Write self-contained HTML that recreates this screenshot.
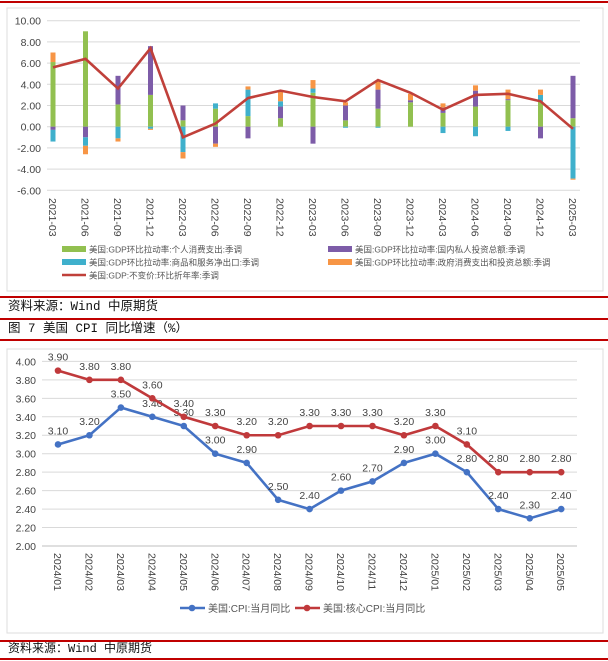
<!DOCTYPE html>
<html><head><meta charset="utf-8">
<style>
body{margin:0;width:608px;height:661px;background:#fff;overflow:hidden;font-family:"Liberation Sans","Noto Sans CJK SC",sans-serif;position:relative}
.rl{position:absolute;left:0;width:608px;height:2px;background:#c00000}
.cap{position:absolute;left:8px;font-family:"Liberation Mono","Noto Sans CJK SC",monospace;font-size:12.5px;color:#111;line-height:15px}
svg{position:absolute;left:0;top:0}
</style></head><body>
<div class="rl" style="top:1px"></div>
<div class="rl" style="top:296px"></div>
<div class="cap" style="top:300px">资料来源：Wind 中原期货</div>
<div class="rl" style="top:318px"></div>
<div class="cap" style="top:322px">图 7 美国 CPI 同比增速（%）</div>
<div class="rl" style="top:339px"></div>
<div class="rl" style="top:640px"></div>
<div class="cap" style="top:642px;font-size:12px">资料来源：Wind 中原期货</div>
<div class="rl" style="top:658px"></div>
<svg id="s" width="608" height="661"></svg>
<script>
const gdpCats=["2021-03","2021-06","2021-09","2021-12","2022-03","2022-06","2022-09","2022-12","2023-03","2023-06","2023-09","2023-12","2024-03","2024-06","2024-09","2024-12","2025-03"];
const consumption=[6.1,9.0,2.1,3.0,0.6,1.7,1.0,0.8,3.2,0.6,1.7,2.3,1.3,1.9,2.5,2.4,0.8];
const investment=[-0.3,-1.0,2.7,4.6,1.4,-1.6,-1.1,1.1,-1.6,1.4,1.8,0.2,0.5,1.5,0.1,-1.1,4.0];
const netExports=[-1.1,-0.8,-1.1,-0.2,-2.4,0.5,2.5,0.5,0.4,-0.1,-0.1,0.0,-0.6,-0.9,-0.4,0.6,-4.9];
const government=[0.9,-0.8,-0.3,-0.1,-0.6,-0.3,0.3,1.0,0.8,0.3,0.9,0.6,0.4,0.5,0.9,0.5,-0.1];
const gdpGrowth=[5.6,6.4,3.6,7.4,-1.0,0.3,2.7,3.4,2.8,2.4,4.4,3.2,1.6,3.0,3.1,2.4,-0.2];
const gdpTicks=[10,8,6,4,2,0,-2,-4,-6];
const cpiCats=["2024/01","2024/02","2024/03","2024/04","2024/05","2024/06","2024/07","2024/08","2024/09","2024/10","2024/11","2024/12","2025/01","2025/02","2025/03","2025/04","2025/05"];
const cpi=[3.1,3.2,3.5,3.4,3.3,3.0,2.9,2.5,2.4,2.6,2.7,2.9,3.0,2.8,2.4,2.3,2.4];
const coreCpi=[3.9,3.8,3.8,3.6,3.4,3.3,3.2,3.2,3.3,3.3,3.3,3.2,3.3,3.1,2.8,2.8,2.8];
const cpiTicks=[4.0,3.8,3.6,3.4,3.2,3.0,2.8,2.6,2.4,2.2,2.0];

const s=document.getElementById('s');const NS="http://www.w3.org/2000/svg";
function el(t,a,txt){const e=document.createElementNS(NS,t);for(const k in a)e.setAttribute(k,a[k]);if(txt!==undefined)e.textContent=txt;s.appendChild(e);return e;}

// ---------- GDP chart ----------
let f=el('rect',{x:7,y:8,width:596,height:283,fill:'#fff',stroke:'#ddd'});

const gy=v=>126.7+(0-v)*10.6;
const gx=i=>53+i*32.5;
gdpTicks.forEach(t=>{
 const l=el('line',{x1:47,x2:580,y1:gy(t),y2:gy(t),stroke:'#d9d9d9','stroke-width':1});
 
 const tx=el('text',{x:41,y:gy(t)+4,'text-anchor':'end','font-size':10.5,fill:'#444'},t.toFixed(2));
 
});
gdpCats.forEach((c,i)=>{
 const tx=el('text',{transform:`translate(${gx(i)-4},198) rotate(90)`,'font-size':10.5,fill:'#444'},c);
 
});
const series=[[consumption,'#92c050','consumption'],[investment,'#7d5ca8','investment'],[netExports,'#3fb0cc','net-exports'],[government,'#f79545','government']];
gdpCats.forEach((c,i)=>{
 let pos=0,neg=0;
 series.forEach(([arr,col,nm])=>{
  const v=arr[i];let y0,y1;
  if(v>=0){y0=pos;y1=pos+v;pos=y1;}else{y0=neg;y1=neg+v;neg=y1;}
  const r=el('rect',{x:gx(i)-2.5,y:Math.min(gy(y0),gy(y1)),width:5,height:Math.abs(gy(y0)-gy(y1)),fill:col});
  
 });
});
let p=el('polyline',{points:gdpGrowth.map((v,i)=>gx(i)+','+gy(v)).join(' '),fill:'none',stroke:'#c0403a','stroke-width':2.6});

const leg=[[62,249,'#92c050','美国:GDP环比拉动率:个人消费支出:季调'],[328,249,'#7d5ca8','美国:GDP环比拉动率:国内私人投资总额:季调'],[62,262,'#3fb0cc','美国:GDP环比拉动率:商品和服务净出口:季调'],[328,262,'#f79545','美国:GDP环比拉动率:政府消费支出和投资总额:季调']];
leg.forEach(([x,y,c,t])=>{
 const r=el('rect',{x:x,y:y-3,width:24,height:6,fill:c});
 const tx=el('text',{x:x+27,y:y+3.5,'font-size':8.5,fill:'#555'},t);
});
let ll=el('line',{x1:62,x2:86,y1:275,y2:275,stroke:'#c0403a','stroke-width':2.5});
let lt=el('text',{x:89,y:278.5,'font-size':8.5,fill:'#555'},'美国:GDP:不变价:环比折年率:季调');

// ---------- CPI chart ----------
f=el('rect',{x:7,y:349,width:596,height:284,fill:'#fff',stroke:'#ddd'});

const cy=v=>546-(v-2)*92.3;
const cx=i=>58+i*31.45;
cpiTicks.forEach(t=>{
 const l=el('line',{x1:42,x2:577,y1:cy(t),y2:cy(t),stroke:t===2?'#bfbfbf':'#d9d9d9','stroke-width':1});
 
 const tx=el('text',{x:36,y:cy(t)+4,'text-anchor':'end','font-size':10.5,fill:'#444'},t.toFixed(2));
 
});
cpiCats.forEach((c,i)=>{
 const tx=el('text',{transform:`translate(${cx(i)-4},553) rotate(90)`,'font-size':10.5,fill:'#444'},c);
 
});
[[cpi,'#4472c4','cpi',1],[coreCpi,'#c0393b','core-cpi',-1]].forEach(([arr,col,nm,d])=>{
 const pl=el('polyline',{points:arr.map((v,i)=>cx(i)+','+cy(v)).join(' '),fill:'none',stroke:col,'stroke-width':2.6});
 
 arr.forEach((v,i)=>{
  const c=el('circle',{cx:cx(i),cy:cy(v),r:3.3,fill:col});
  const tx=el('text',{x:cx(i),y:cy(v)-10,'text-anchor':'middle','font-size':10.5,fill:'#444'},v.toFixed(2));
  
 });
});
let a=el('line',{x1:180,x2:205,y1:608,y2:608,stroke:'#4472c4','stroke-width':2.5});
a=el('circle',{cx:192,cy:608,r:3.3,fill:'#4472c4'});
a=el('text',{x:208,y:612,'font-size':10,fill:'#555'},'美国:CPI:当月同比');
a=el('line',{x1:295,x2:320,y1:608,y2:608,stroke:'#c0393b','stroke-width':2.5});
a=el('circle',{cx:307,cy:608,r:3.3,fill:'#c0393b'});
a=el('text',{x:323,y:612,'font-size':10,fill:'#555'},'美国:核心CPI:当月同比');
</script>
</body></html>
